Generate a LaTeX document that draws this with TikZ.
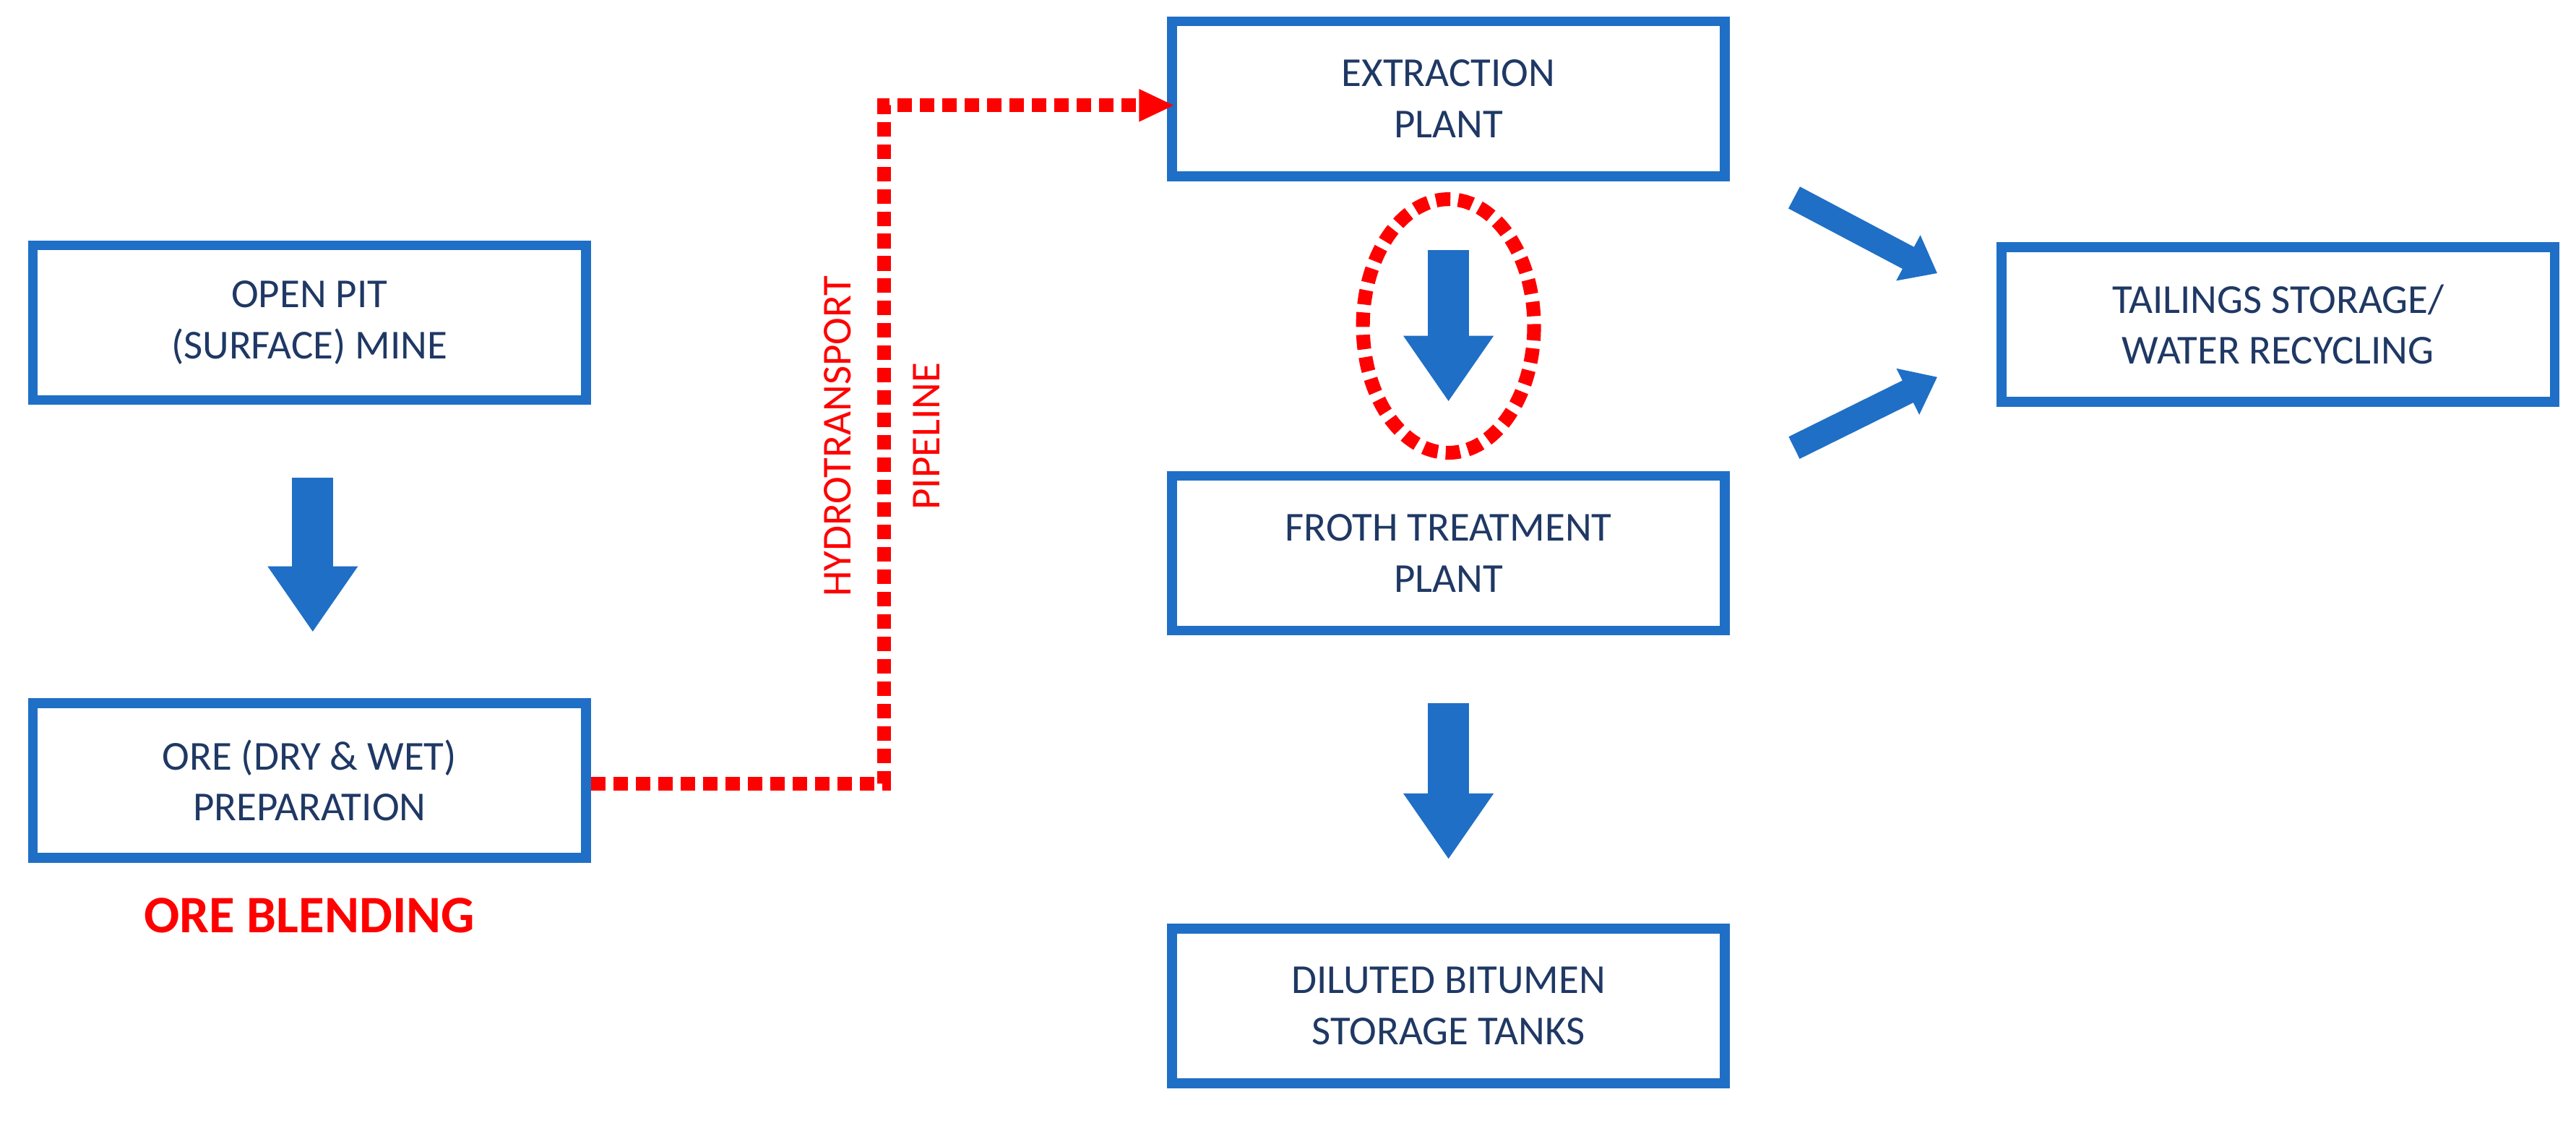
\documentclass[tikz,border=0pt]{standalone}
\usepackage{fontspec}
\setmainfont{Carlito}
\usetikzlibrary{arrows.meta}
\definecolor{bb}{HTML}{1F6FC6}
\definecolor{tx}{HTML}{1F3864}
\definecolor{rd}{HTML}{FF0000}
\begin{document}
\begin{tikzpicture}[x=0.5pt,y=-0.5pt,
 box/.style={draw=bb,line width=3pt,minimum width=168pt,minimum height=47pt,align=center,text=tx,font=\fontsize{12.5}{15.5}\selectfont,inner sep=0pt},
 blk/.style={draw=bb,line width=12.5pt,-{Triangle[width=26pt,length=20pt]}},
 dia/.style={draw=bb,line width=7.5pt,-{Triangle[width=15pt,length=10pt]}},
 dot/.style={draw=rd,line width=4.2pt,dash pattern=on 4.4pt off 2.4pt},
 rt/.style={text=rd,font=\fontsize{12.5}{15.5}\selectfont,rotate=90}]
\useasboundingbox (0,0) rectangle (1565,687);
\node[box] (pit) at (188,196) {OPEN PIT\\(SURFACE) MINE};
\node[box] (ore) at (188,474) {ORE (DRY \& WET)\\PREPARATION};
\node[box] (ext) at (880,60) {EXTRACTION\\PLANT};
\node[box] (fro) at (880,336) {FROTH TREATMENT\\PLANT};
\node[box] (dil) at (880,611) {DILUTED BITUMEN\\STORAGE TANKS};
\node[box] (tai) at (1384,197) {TAILINGS STORAGE/\\WATER RECYCLING};
\node[text=rd,font=\fontsize{16}{18}\selectfont\bfseries] (bl) at (188,556) {ORE BLENDING};
\node[rt] (hp1) at (509,265) {HYDROTRANSPORT};
\node[rt] (hp2) at (563,265) {PIPELINE};
\coordinate (a1) at (190,290); \coordinate (a2) at (190,384);
\coordinate (b1) at (880,152); \coordinate (b2) at (880,244);
\coordinate (c1) at (880,427); \coordinate (c2) at (880,522);
\coordinate (d1) at (1090,120); \coordinate (d2) at (1177,166);
\coordinate (e1) at (1090,272); \coordinate (e2) at (1177,229);
\draw[blk] (a1) -- (a2);
\draw[blk] (b1) -- (b2);
\draw[blk] (c1) -- (c2);
\draw[dia] (d1) -- (d2);
\draw[dia] (e1) -- (e2);
\coordinate (p1) at (537,476); \coordinate (p2) at (537,64);
\draw[dot] (ore.east|-p1) -- (p1) -- (p2) -- (693,64);
\fill[rd] (713,64) -- (692,54) -- (692,74) -- cycle;
\draw[dot] (880,198) ellipse [x radius=52, y radius=77];
\end{tikzpicture}
\end{document}
